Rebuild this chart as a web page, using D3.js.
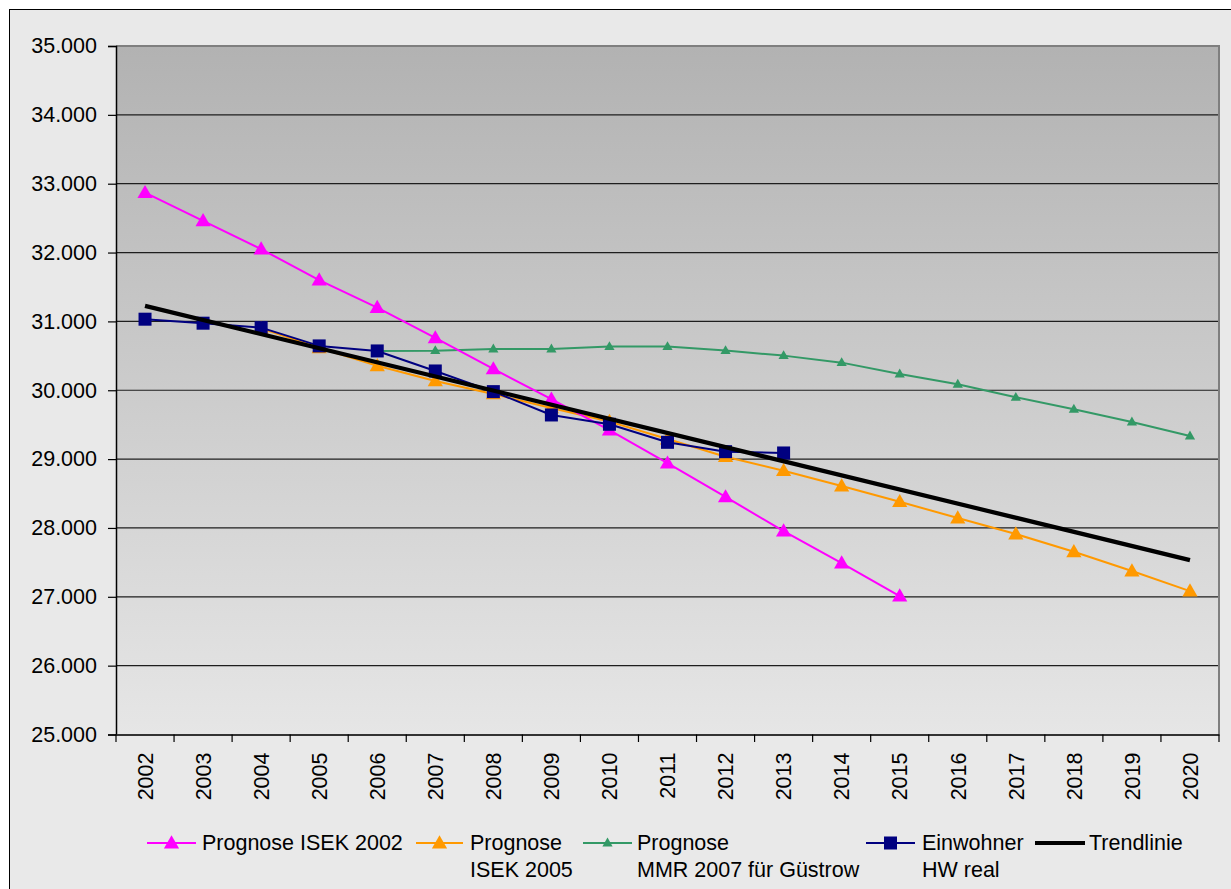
<!DOCTYPE html>
<html>
<head>
<meta charset="utf-8">
<script src="https://cdn.jsdelivr.net/npm/d3@7"></script>
<style>
  html, body { margin: 0; padding: 0; background: #ffffff; overflow: hidden; }
  svg { display: block; font-family: "Liberation Sans", Arial, sans-serif; }
</style>
</head>
<body>
<svg id="chart" width="1231" height="889"></svg>
<script>
// ---- data ----
const years = ["2002","2003","2004","2005","2006","2007","2008","2009","2010","2011","2012","2013","2014","2015","2016","2017","2018","2019","2020"];
const yTicks = [25000,26000,27000,28000,29000,30000,31000,32000,33000,34000,35000];

// Prognose ISEK 2002 (2002-2015)
const isek2002 = [32870,32460,32050,31600,31200,30760,30310,29870,29420,28940,28450,27955,27490,27010];
// Prognose ISEK 2005 (2004-2020)
const isek2005Years = ["2004","2005","2006","2007","2008","2009","2010","2011","2012","2013","2014","2015","2016","2017","2018","2019","2020"];
const isek2005 = [30900,30615,30355,30135,29946,29743,29544,29292,29035,28831,28609,28381,28144,27911,27654,27374,27083];
// Prognose MMR 2007 für Güstrow (2006-2020)
const mmrYears = ["2006","2007","2008","2009","2010","2011","2012","2013","2014","2015","2016","2017","2018","2019","2020"];
const mmr2007 = [30571,30575,30600,30600,30634,30634,30576,30503,30401,30237,30087,29898,29724,29539,29336];
// Einwohner HW real (2002-2013)
const realYears = ["2002","2003","2004","2005","2006","2007","2008","2009","2010","2011","2012","2013"];
const einwohner = [31032,30974,30910,30644,30571,30280,29980,29641,29506,29244,29108,29089];
// Trendlinie endpoints (2002, 2020)
const trendYears = ["2002","2020"];
const trend = [31225,27533];

const legendLabels = [["Prognose ISEK 2002"],["Prognose","ISEK 2005"],["Prognose","MMR 2007 für Güstrow"],["Einwohner","HW real"],["Trendlinie"]];

// ---- layout ----
const svg = d3.select("#chart");
const L = 116, T = 46, R = 1219, B = 734.5;
const FS = 21.5;

// outer chart area
svg.append("rect").attr("x", 9.5).attr("y", 9.5).attr("width", 1300).attr("height", 1000)
  .attr("fill", "#e9e9e9").attr("stroke", "#000").attr("stroke-width", 1);

const defs = svg.append("defs");
const grad = defs.append("linearGradient").attr("id", "bg").attr("x1", 0).attr("y1", 0).attr("x2", 0).attr("y2", 1);
grad.append("stop").attr("offset", "0%").attr("stop-color", "#b2b2b2");
grad.append("stop").attr("offset", "100%").attr("stop-color", "#e6e6e6");

const x = d3.scaleBand().domain(years).range([L, R]).paddingInner(0).paddingOuter(0);
const y = d3.scaleLinear().domain([25000, 35000]).range([B, T]);
const cx = d => x(d) + x.bandwidth() / 2;

svg.append("rect").attr("x", L).attr("y", T).attr("width", R - L).attr("height", B - T).attr("fill", "url(#bg)");

// gridlines
svg.append("g").selectAll("line").data(yTicks.slice(1, -1)).join("line")
  .attr("x1", L).attr("x2", R).attr("y1", d => y(d)).attr("y2", d => y(d))
  .attr("stroke", "#1e1e1e").attr("stroke-width", 1.2);

// plot border top/right
svg.append("path").attr("d", `M${L},${T}H${R}V${B}`).attr("fill", "none").attr("stroke", "#7f7f7f").attr("stroke-width", 2);

// y axis
const fmt = d => d3.format(",")(d).replace(/,/g, ".");
const yAxis = svg.append("g").attr("transform", `translate(${L},0)`)
  .call(d3.axisLeft(y).tickValues(yTicks).tickFormat(fmt).tickSize(8).tickPadding(11));
yAxis.select(".domain").attr("stroke", "#000").attr("stroke-width", 1.5);
yAxis.selectAll(".tick line").attr("stroke", "#000").attr("stroke-width", 1.2);
yAxis.selectAll("text").attr("font-size", FS).attr("fill", "#000").attr("font-family", "Liberation Sans, Arial, sans-serif");

// x axis
const xAxis = svg.append("g").attr("transform", `translate(0,${B})`)
  .call(d3.axisBottom(x).tickSize(0).tickFormat(d => d));
xAxis.select(".domain").attr("stroke", "#333").attr("stroke-width", 1.8);
xAxis.selectAll(".tick text")
  .attr("font-size", FS).attr("fill", "#000").attr("font-family", "Liberation Sans, Arial, sans-serif")
  .attr("transform", "rotate(-90)")
  .attr("text-anchor", "end")
  .attr("x", -18).attr("y", 0).attr("dy", "0.36em");
// boundary ticks
const bounds = years.map(d => x(d)).concat([R]);
svg.append("g").selectAll("line").data(bounds).join("line")
  .attr("x1", d => d).attr("x2", d => d).attr("y1", B).attr("y2", B + 7.5)
  .attr("stroke", "#000").attr("stroke-width", 1.2);

// ---- series ----
const line = d3.line().x(d => cx(d[0])).y(d => y(d[1]));
const tri = (s) => d3.symbol().type(d3.symbolTriangle).size(s);

function series(yrs, vals, color, width, marker) {
  const pts = yrs.map((d, i) => [d, vals[i]]);
  const g = svg.append("g");
  g.append("path").datum(pts).attr("d", line).attr("fill", "none")
    .attr("stroke", color).attr("stroke-width", width).attr("stroke-linejoin", "round");
  if (marker === "triBig") {
    g.selectAll("path.m").data(pts).join("path").attr("class", "m")
      .attr("transform", d => `translate(${cx(d[0])},${y(d[1]) + 1})`)
      .attr("d", tri(100)).attr("fill", color);
  } else if (marker === "triSmall") {
    g.selectAll("path.m").data(pts).join("path").attr("class", "m")
      .attr("transform", d => `translate(${cx(d[0])},${y(d[1]) + 0.5})`)
      .attr("d", tri(45)).attr("fill", color);
  } else if (marker === "square") {
    g.selectAll("rect.m").data(pts).join("rect").attr("class", "m")
      .attr("x", d => cx(d[0]) - 6.5).attr("y", d => y(d[1]) - 6.5)
      .attr("width", 13).attr("height", 13).attr("fill", color);
  }
}

series(mmrYears, mmr2007, "#339966", 2, "triSmall");
series(isek2005Years, isek2005, "#ff9900", 2, "triBig");
series(years.slice(0, isek2002.length), isek2002, "#ff00ff", 2, "triBig");
series(realYears, einwohner, "#000080", 2, "square");
series(trendYears, trend, "#000000", 4.2, null);

// ---- legend ----
const leg = svg.append("g").attr("font-size", FS).attr("font-family", "Liberation Sans, Arial, sans-serif");
const legItems = [
  { x1: 147, x2: 196, tx: 202, color: "#ff00ff", w: 2, m: "triBig" },
  { x1: 416, x2: 463, tx: 470, color: "#ff9900", w: 2, m: "triBig" },
  { x1: 583, x2: 632, tx: 637, color: "#339966", w: 2, m: "triSmall" },
  { x1: 866, x2: 915, tx: 922, color: "#000080", w: 2, m: "square" },
  { x1: 1035, x2: 1085, tx: 1089, color: "#000000", w: 4, m: null }
];
const ly = 843;
legItems.forEach((it, i) => {
  leg.append("line").attr("x1", it.x1).attr("x2", it.x2).attr("y1", ly).attr("y2", ly)
    .attr("stroke", it.color).attr("stroke-width", it.w);
  const mx = (it.x1 + it.x2) / 2;
  if (it.m === "triBig") leg.append("path").attr("transform", `translate(${mx},${ly + 1})`).attr("d", tri(100)).attr("fill", it.color);
  if (it.m === "triSmall") leg.append("path").attr("transform", `translate(${mx},${ly + 0.5})`).attr("d", tri(45)).attr("fill", it.color);
  if (it.m === "square") leg.append("rect").attr("x", mx - 6.5).attr("y", ly - 6.5).attr("width", 13).attr("height", 13).attr("fill", it.color);
  legendLabels[i].forEach((t, j) => {
    leg.append("text").attr("x", it.tx).attr("y", 849.5 + j * 27).attr("fill", "#000").text(t);
  });
});
</script>
</body>
</html>
